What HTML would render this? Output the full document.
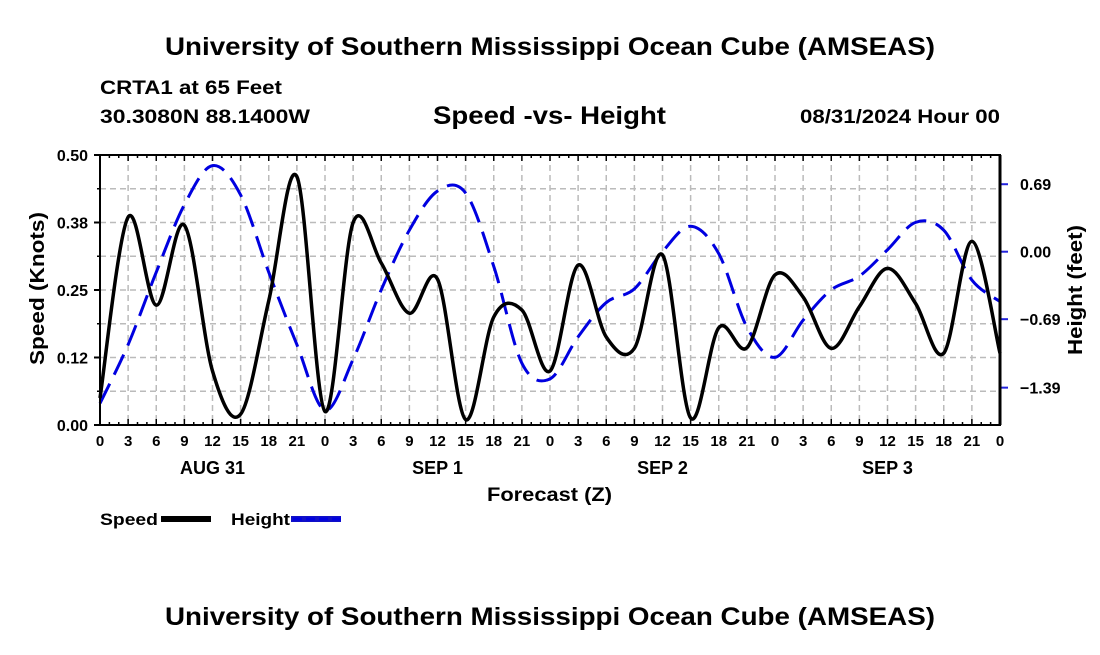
<!DOCTYPE html>
<html><head><meta charset="utf-8"><style>
html,body{margin:0;padding:0;background:#fff;}
svg text{font-family:"Liberation Sans",Arial,sans-serif;font-weight:bold;fill:#000;}
</style></head><body>
<svg id="chart" width="1100" height="650" xmlns="http://www.w3.org/2000/svg">
<text x="165" y="55" font-size="25" textLength="770" lengthAdjust="spacingAndGlyphs">University of Southern Mississippi Ocean Cube (AMSEAS)</text>
<text x="100" y="94" font-size="19" textLength="182" lengthAdjust="spacingAndGlyphs">CRTA1 at 65 Feet</text>
<text x="100" y="123" font-size="19" textLength="210" lengthAdjust="spacingAndGlyphs">30.3080N  88.1400W</text>
<text x="433" y="124" font-size="25" textLength="233" lengthAdjust="spacingAndGlyphs">Speed -vs- Height</text>
<text x="800" y="123" font-size="19" textLength="200" lengthAdjust="spacingAndGlyphs">08/31/2024 Hour 00</text>
<g id="grid"></g>
<g id="series"></g>
<g id="axes"></g>
<text transform="translate(44,365) rotate(-90)" font-size="20" textLength="153" lengthAdjust="spacingAndGlyphs">Speed (Knots)</text>
<text transform="translate(1082,355) rotate(-90)" font-size="20" textLength="130" lengthAdjust="spacingAndGlyphs">Height (feet)</text>
<text x="487" y="501" font-size="19" textLength="125" lengthAdjust="spacingAndGlyphs">Forecast (Z)</text>
<g>
<text x="100" y="525" font-size="17" textLength="58" lengthAdjust="spacingAndGlyphs">Speed</text>
<rect x="161" y="516" width="50" height="6" fill="#000"/>
<text x="231" y="525" font-size="17" textLength="59" lengthAdjust="spacingAndGlyphs">Height</text>
<rect x="291" y="516" width="50" height="6" fill="#1010c8"/>
<line x1="293" y1="519" x2="341" y2="519" stroke="#0000e0" stroke-width="3" stroke-dasharray="9,4"/>
</g>
<text x="165" y="625" font-size="25" textLength="770" lengthAdjust="spacingAndGlyphs">University of Southern Mississippi Ocean Cube (AMSEAS)</text>
</svg>
<script>
const hours = [0,3,6,9,12,15,18,21,24,27,30,33,36,39,42,45,48,51,54,57,60,63,66,69,72,75,78,81,84,87,90,93,96];
const speedValues = [0.05,0.385,0.222,0.37,0.10,0.02,0.23,0.46,0.025,0.375,0.30,0.207,0.27,0.01,0.20,0.213,0.10,0.296,0.163,0.142,0.315,0.013,0.18,0.143,0.278,0.237,0.142,0.219,0.29,0.225,0.133,0.34,0.133];
const heightValues = [-1.55,-0.95,-0.21,0.48,0.88,0.58,-0.21,-0.95,-1.62,-1.1,-0.39,0.22,0.62,0.6,-0.15,-1.14,-1.3,-0.87,-0.52,-0.38,0.0,0.26,-0.02,-0.77,-1.08,-0.7,-0.39,-0.25,0.02,0.3,0.22,-0.29,-0.51];
const speedTicks = [0,0.125,0.25,0.375,0.5];
const speedTickLabels = ["0.00","0.12","0.25","0.38","0.50"];
const heightTicks = [0.69,0,-0.69,-1.39];
const heightTickLabels = ["0.69","0.00","\u22120.69","\u22121.39"];
const dayLabels = ["AUG 31","SEP 1","SEP 2","SEP 3"];

const X0=100,X1=1000,Y0=425,Y1=155;
const xS=h=>X0+(X1-X0)*h/96;
const yS=v=>Y0-(Y0-Y1)*v/0.5;
const yH=v=>251.7-v*97.8;
const NS="http://www.w3.org/2000/svg";
function mk(tag,attrs,parent){const e=document.createElementNS(NS,tag);for(const k in attrs)e.setAttribute(k,attrs[k]);parent.appendChild(e);return e;}
const grid=document.getElementById('grid'),series=document.getElementById('series'),axes=document.getElementById('axes');
for(let h=3;h<96;h+=3){const l=mk('line',{x1:xS(h),x2:xS(h),y1:Y1,y2:Y0,stroke:'#bbb','stroke-width':1.5,'stroke-dasharray':'6,4'},grid);

}
for(let v=0.0625;v<0.5;v+=0.0625){const l=mk('line',{x1:X0,x2:X1,y1:yS(v),y2:yS(v),stroke:'#bbb','stroke-width':1.5,'stroke-dasharray':'6,4'},grid);

}
function spline(pts){let d=`M${pts[0][0]},${pts[0][1]}`;for(let i=0;i<pts.length-1;i++){const p0=pts[Math.max(0,i-1)],p1=pts[i],p2=pts[i+1],p3=pts[Math.min(pts.length-1,i+2)];
d+=` C${p1[0]+(p2[0]-p0[0])/6},${p1[1]+(p2[1]-p0[1])/6} ${p2[0]-(p3[0]-p1[0])/6},${p2[1]-(p3[1]-p1[1])/6} ${p2[0]},${p2[1]}`;}return d;}
const hp=mk('path',{d:spline(hours.map((h,i)=>[xS(h),yH(heightValues[i])])),fill:'none',stroke:'#0000e0','stroke-width':3,'stroke-dasharray':'22,10'},series);


const sp=mk('path',{d:spline(hours.map((h,i)=>[xS(h),yS(speedValues[i])])),fill:'none',stroke:'#000','stroke-width':3.5,'stroke-linejoin':'round'},series);


const fr=mk('rect',{x:X0,y:Y1,width:X1-X0,height:Y0-Y1,fill:'none',stroke:'#000','stroke-width':2},axes);


for(let h=0;h<=96;h+=1){const big=h%3===0;
mk('line',{x1:xS(h),x2:xS(h),y1:Y0,y2:Y0-(big?6:3),stroke:'#000','stroke-width':1.5},axes);
mk('line',{x1:xS(h),x2:xS(h),y1:Y1,y2:Y1+(big?6:3),stroke:'#000','stroke-width':1.5},axes);
if(big){const t=mk('text',{x:xS(h),y:Y0+21,'font-size':15,'text-anchor':'middle'},axes);t.textContent=String(h%24);

}}
dayLabels.forEach((d,i)=>{const t=mk('text',{x:xS(12+24*i),y:Y0+49,'font-size':18,'text-anchor':'middle'},axes);t.textContent=d;

});
speedTicks.forEach((v,i)=>{mk('line',{x1:X0,x2:X0-6,y1:yS(v),y2:yS(v),stroke:'#000','stroke-width':2},axes);
const t=mk('text',{x:X0-12,y:yS(v)+6,'font-size':16,'text-anchor':'end'},axes);t.textContent=speedTickLabels[i];

});
for(let v=0.0625;v<0.5;v+=0.125)mk('line',{x1:X0,x2:X0-3,y1:yS(v),y2:yS(v),stroke:'#000','stroke-width':1.5},axes);
heightTicks.forEach((v,i)=>{mk('line',{x1:X1,x2:X1+8,y1:yH(v),y2:yH(v),stroke:'#2222dd','stroke-width':2},axes);
const t=mk('text',{x:X1+20,y:yH(v)+6,'font-size':16},axes);t.textContent=heightTickLabels[i];

});
mk('line',{x1:X1,x2:X1,y1:Y1,y2:Y0,stroke:'#000','stroke-width':3},axes);
</script>
</body></html>
